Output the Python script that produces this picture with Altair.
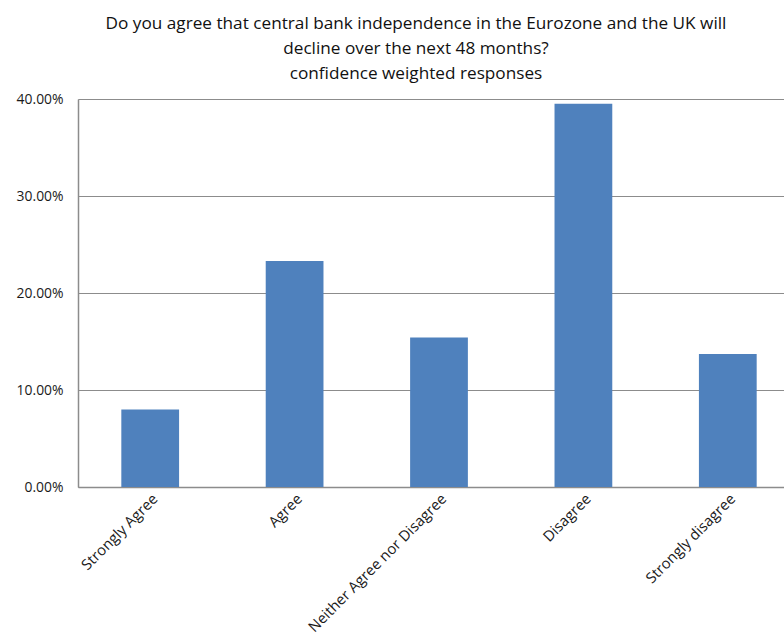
import altair as alt
import pandas as pd

categories = ["Strongly Agree", "Agree", "Neither Agree nor Disagree", "Disagree", "Strongly disagree"]
values = [0.080, 0.233, 0.154, 0.395, 0.137]
y_ticks = [0.0, 0.1, 0.2, 0.3, 0.4]

df = pd.DataFrame({"category": categories, "value": values})

FONT = "Open Sans"

chart = alt.Chart(df).mark_bar(color="#4F81BD").encode(
    x=alt.X("category:N", sort=categories, title=None,
            scale=alt.Scale(range=[0, 722], paddingInner=0.6, paddingOuter=0.3),
            axis=alt.Axis(labelAngle=-45, labelAlign="right", labelBaseline="top",
                          labelPadding=4, ticks=False, domainColor="#8c8c8c",
                          domainWidth=1.5, labelFont=FONT, labelFontSize=14.8,
                          labelColor="#1a1a1a", labelLimit=300)),
    y=alt.Y("value:Q", title=None,
            scale=alt.Scale(domain=[0, 0.4], nice=False),
            axis=alt.Axis(values=y_ticks, format=".2%", ticks=False, grid=True,
                          gridColor="#8c8c8c", gridWidth=1.2, domainColor="#8c8c8c",
                          domainWidth=1.5, labelPadding=15, labelFont=FONT,
                          labelFontSize=13.9, labelColor="#1a1a1a")),
).properties(
    width=706,
    height=388,
    title=alt.TitleParams(
        text=["Do you agree that central bank independence in the Eurozone and the UK will",
              "decline over the next 48 months?",
              "confidence weighted responses"],
        font=FONT, fontSize=17.2, fontWeight="normal", color="#111111",
        anchor="middle", dx=-15, offset=10, lineHeight=25,
    ),
    autosize=alt.AutoSizeParams(type="none"),
    padding={"left": 78, "top": 99, "right": 0, "bottom": 148},
).configure_view(stroke=None).configure(background="white")

chart.save("out.html", embed_options={"renderer": "svg", "actions": False})
